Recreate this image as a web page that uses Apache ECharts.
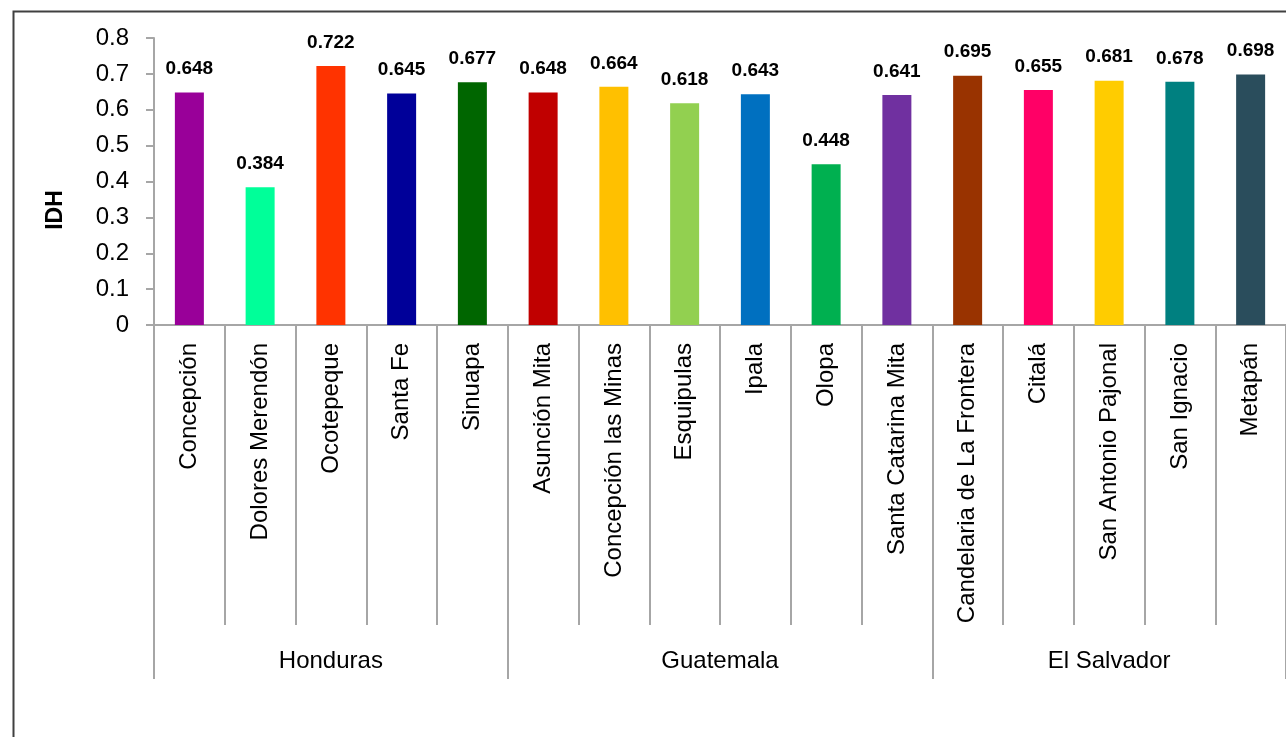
<!DOCTYPE html>
<html>
<head>
<meta charset="utf-8">
<script src="https://cdn.jsdelivr.net/npm/echarts@6/dist/echarts.min.js"></script>
<style>
html,body{margin:0;padding:0;background:#fff;}
#chart{width:1286px;height:737px;}
</style>
</head>
<body>
<div id="chart"></div>
<script>
// ---- data ----
const municipios = ['Concepción','Dolores Merendón','Ocotepeque','Santa Fe','Sinuapa',
  'Asunción Mita','Concepción las Minas','Esquipulas','Ipala','Olopa','Santa Catarina Mita',
  'Candelaria de La Frontera','Citalá','San Antonio Pajonal','San Ignacio','Metapán'];
const idh = [0.648,0.384,0.722,0.645,0.677,0.648,0.664,0.618,0.643,0.448,0.641,0.695,0.655,0.681,0.678,0.698];
const paises = ['Honduras','Guatemala','El Salvador'];
const paisCount = [5,6,5];
const barColors = ['#990099','#00FF99','#FF3300','#000099','#006600','#C00000','#FFC000','#92D050',
  '#0070C0','#00B050','#7030A0','#993300','#FF0066','#FFCC00','#008080','#2A4D5C'];
const yTicks = {min:0, max:0.8, interval:0.1};

// ---- group axis (half-category slots, boundaryGap false) ----
const nSlots = municipios.length * 2 + 1;
const groupSlots = new Array(nSlots).fill('');
const groupTickIdx = new Set([0]);
const groupLabelIdx = new Set();
let acc = 0;
paises.forEach((p, i) => {
  const center = acc * 2 + paisCount[i];
  groupSlots[center] = p;
  groupLabelIdx.add(center);
  acc += paisCount[i];
  groupTickIdx.add(acc * 2);
});

const FONT = "'Liberation Sans Narrow','Arial Narrow','Liberation Sans',Arial,sans-serif";
const GRAY = '#A6A6A6';

const chart = echarts.init(document.getElementById('chart'));
chart.setOption({
  animation: false,
  color: barColors,
  grid: {left: 154, right: 0, top: 38, bottom: 412, containLabel: false},
  graphic: [
    {type: 'rect', left: 11, top: 9, shape: {width: 1320, height: 800},
     style: {fill: 'none', stroke: '#404040', lineWidth: 2}, silent: true, z: -1},
    {type: 'text', x: 56, y: 210, rotation: Math.PI / 2,
     style: {text: 'IDH', font: "bold 23px " + FONT, fill: '#000', align: 'center', verticalAlign: 'middle'}}
  ],
  xAxis: [
    {
      type: 'category', data: municipios, position: 'bottom',
      axisLine: {show: true, lineStyle: {color: GRAY, width: 2}},
      axisTick: {show: true, interval: 0, length: 300, lineStyle: {color: GRAY, width: 2}},
      axisLabel: {interval: 0, rotate: 90, margin: 18, color: '#000', fontSize: 24, fontFamily: FONT}
    },
    {
      type: 'category', data: groupSlots, position: 'bottom', boundaryGap: false,
      axisLine: {show: false},
      axisTick: {show: true, length: 354, interval: (i) => groupTickIdx.has(i), lineStyle: {color: GRAY, width: 2}},
      axisLabel: {interval: (i) => groupLabelIdx.has(i), margin: 324, color: '#000', fontSize: 24, fontFamily: FONT}
    }
  ],
  yAxis: {
    type: 'value', min: yTicks.min, max: yTicks.max, interval: yTicks.interval,
    axisLine: {show: true, lineStyle: {color: GRAY, width: 2}},
    axisTick: {show: true, length: 8, lineStyle: {color: GRAY, width: 2}},
    splitLine: {show: false},
    axisLabel: {margin: 25, color: '#000', fontSize: 24, fontFamily: FONT,
      formatter: v => (Math.round(v * 10) / 10).toString()}
  },
  series: [{
    type: 'bar', xAxisIndex: 0, data: idh, colorBy: 'data', barWidth: 29,
    label: {show: true, position: 'top', distance: 14, color: '#000', fontWeight: 'bold',
      fontSize: 19, fontFamily: FONT, formatter: p => p.value.toFixed(3)}
  }]
});
</script>
</body>
</html>
